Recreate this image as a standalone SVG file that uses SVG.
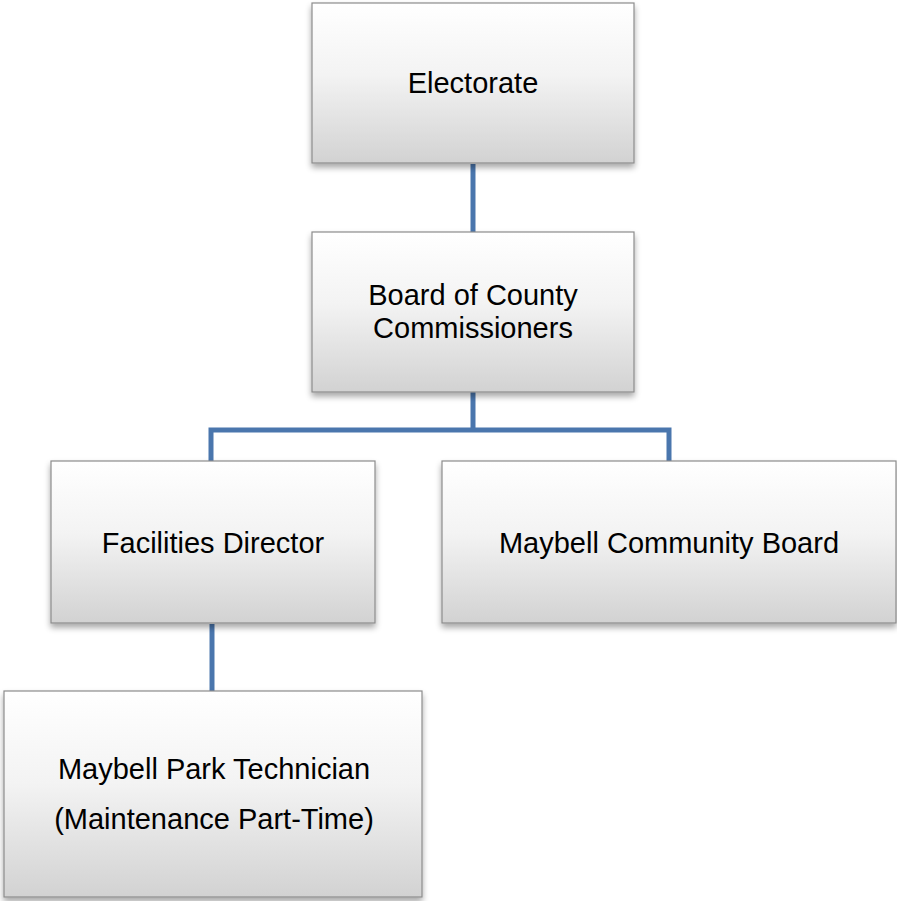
<svg xmlns="http://www.w3.org/2000/svg" width="897" height="901" viewBox="0 0 897 901">
<style>
.box{fill:url(#g);stroke:#8c8c8c;stroke-width:1.2;filter:url(#sh)}
.lbl{font-family:"Liberation Sans",Arial,sans-serif;font-size:29px;fill:#000;text-anchor:middle}
.con{fill:none;stroke:#4a76ad;stroke-width:5}
</style>
<defs>
<linearGradient id="g" x1="0" y1="0" x2="0" y2="1">
<stop offset="0" stop-color="#ffffff"/>
<stop offset="0.45" stop-color="#f3f3f3"/>
<stop offset="1" stop-color="#d2d2d2"/>
</linearGradient>
<filter id="sh" x="-10%" y="-10%" width="120%" height="130%">
<feGaussianBlur in="SourceAlpha" stdDeviation="3"/>
<feOffset dx="0" dy="4" result="b"/>
<feComponentTransfer><feFuncA type="linear" slope="0.35"/></feComponentTransfer>
<feMerge><feMergeNode/><feMergeNode in="SourceGraphic"/></feMerge>
</filter>
</defs>
<rect width="897" height="901" fill="#fff"/>
<g id="connectors">
<path class="con" d="M473 164V232"/>
<path class="con" d="M473 392V430M211 461V430H669V461"/>
<path class="con" d="M212 624V691"/>
</g>
<g id="electorate">
<rect class="box" x="312" y="3" width="322" height="160"/>
<text class="lbl" x="473" y="93">Electorate</text>
</g>
<g id="board">
<rect class="box" x="312" y="232" width="322" height="160"/>
<text class="lbl" x="473" y="305">Board of County</text>
<text class="lbl" x="473" y="338">Commissioners</text>
</g>
<g id="facilities">
<rect class="box" x="51" y="461" width="324" height="162"/>
<text class="lbl" x="213" y="553">Facilities Director</text>
</g>
<g id="community">
<rect class="box" x="442" y="461" width="454" height="162"/>
<text class="lbl" x="669" y="553">Maybell Community Board</text>
</g>
<g id="technician">
<rect class="box" x="4" y="691" width="418" height="206"/>
<text class="lbl" x="214" y="779">Maybell Park Technician</text>
<text class="lbl" x="214" y="829">(Maintenance Part-Time)</text>
</g>
</svg>
